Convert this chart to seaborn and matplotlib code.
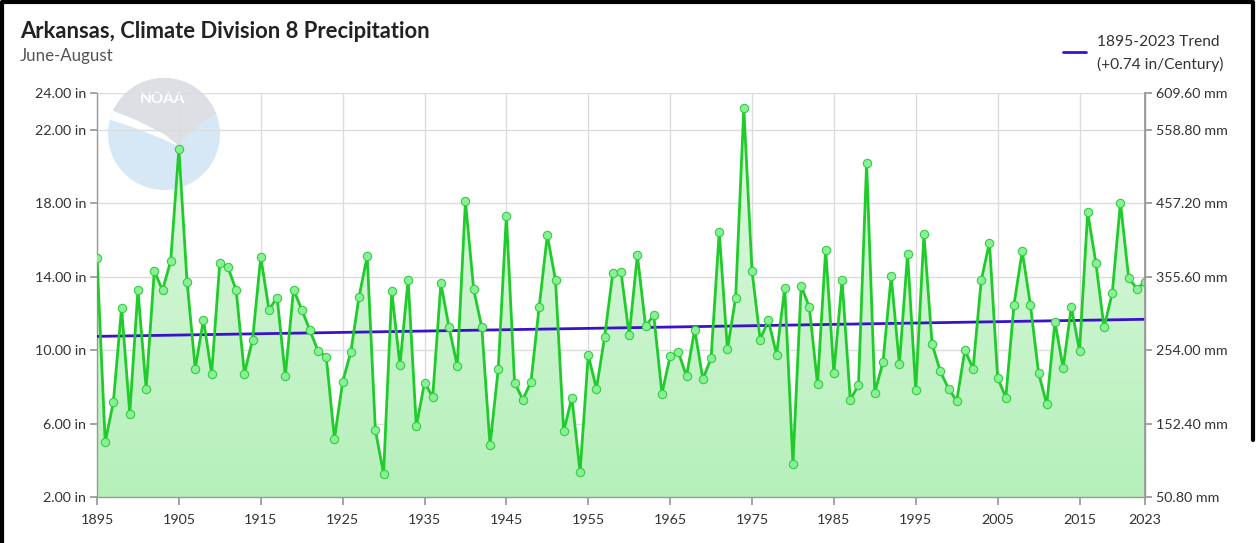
import numpy as np
import matplotlib
matplotlib.use("Agg")
import matplotlib.pyplot as plt
import seaborn as sns
from matplotlib.colors import LinearSegmentedColormap
from matplotlib.patches import Circle, Polygon
from matplotlib.lines import Line2D

# values (inches, June-August totals)
years = list(range(1895, 2024))
precip_in = [
    15.04, 5.00, 7.18, 12.31, 6.55, 13.27, 7.91, 14.33, 13.27, 14.87,   # 1895-1904
    20.96, 13.73, 9.00, 11.67, 8.73, 14.78, 14.51, 13.27, 8.73, 10.58,  # 1905-1914
    15.09, 12.22, 12.87, 8.60, 13.31, 12.22, 11.09, 9.96, 9.64, 5.18,   # 1915-1924
    8.27, 9.91, 12.91, 15.13, 5.64, 3.27, 13.22, 9.18, 13.85, 5.85,     # 1925-1934
    8.24, 7.45, 13.64, 11.24, 9.15, 18.13, 13.33, 11.24, 4.82, 8.95,    # 1935-1944
    17.33, 8.24, 7.31, 8.27, 12.35, 16.27, 13.82, 5.58, 7.42, 3.36,     # 1945-1954
    9.73, 7.91, 10.73, 14.22, 14.27, 10.82, 15.18, 11.31, 11.91, 7.64,  # 1955-1964
    9.67, 9.91, 8.58, 11.13, 8.42, 9.58, 16.45, 10.05, 12.87, 23.18,    # 1965-1974
    14.33, 10.58, 11.64, 9.76, 13.40, 3.78, 13.51, 12.36, 8.15, 15.49,  # 1975-1984
    8.76, 13.82, 7.31, 8.09, 20.22, 7.69, 9.36, 14.04, 9.24, 15.24,     # 1985-1994
    7.82, 16.33, 10.33, 8.85, 7.91, 7.24, 10.00, 9.00, 13.82, 15.87,    # 1995-2004
    8.51, 7.42, 12.49, 15.40, 12.49, 8.76, 7.05, 11.55, 9.04, 12.36,    # 2005-2014
    9.96, 17.51, 14.76, 11.24, 13.13, 18.05, 13.95, 13.36, 13.73,       # 2015-2023
]
y_ticks = [2, 6, 10, 14, 18, 22, 24]
x_ticks = [1895, 1905, 1915, 1925, 1935, 1945, 1955, 1965, 1975, 1985,
           1995, 2005, 2015, 2023]

sns.set_theme(style="whitegrid")
plt.rcParams['font.family'] = ['Lato', 'DejaVu Sans']

fig = plt.figure(figsize=(12.57, 5.43), dpi=100)
fig.patch.set_facecolor("white")

# faded NOAA logo behind the plot
logo = fig.add_axes([108 / 1257, (543 - 134 - 56) / 543, 112 / 1257, 112 / 543])
logo.set_xlim(-1, 1)
logo.set_ylim(-1, 1)
logo.set_aspect("equal")
logo.axis("off")
logo.set_zorder(0)
disc = Circle((0, 0), 1, facecolor="#d6e8f6", edgecolor="none")
logo.add_patch(disc)
t = np.linspace(-1, 1, 80)
upper = np.interp(t, [-1, -0.5, 0, 0.25, 0.6, 1], [0.45, 0.25, 0.0, -0.2, 0.15, 0.4])
top = Polygon(np.vstack([np.column_stack([t, upper]), [[1, 1], [-1, 1]]]),
              facecolor="#dddfe4", edgecolor="none")
top.set_clip_path(disc)
logo.add_patch(top)
tb = np.linspace(-1, 0.25, 40)
band_hi = np.interp(tb, [-1, -0.5, 0, 0.25], [0.45, 0.25, 0.0, -0.2])
band_lo = np.interp(tb, [-1, -0.5, 0, 0.25], [0.27, 0.1, -0.1, -0.22])
band = Polygon(np.vstack([np.column_stack([tb, band_hi]),
                          np.column_stack([tb, band_lo])[::-1]]),
               facecolor="white", edgecolor="none")
band.set_clip_path(disc)
logo.add_patch(band)
logo.text(-0.02, 0.62, "NOAA", color="white", fontsize=11, fontweight="bold",
          ha="center", va="center")

ax = fig.add_axes([97 / 1257, 46 / 543, 1048 / 1257, 403.6 / 543])
ax.set_zorder(1)
ax.patch.set_alpha(0)

# gradient area under the series
fill = ax.fill_between(years, precip_in, 2, facecolor="none", edgecolor="none")
cmap = LinearSegmentedColormap.from_list("g", ["#b5f0ba", "#e2f9e4"])
grad = ax.imshow(np.linspace(0, 1, 256).reshape(-1, 1), cmap=cmap, origin="lower",
                 extent=[1895, 2023, 2, 24], aspect="auto", zorder=1)
grad.set_clip_path(fill.get_paths()[0], transform=ax.transData)

# linear trend
coef = np.polyfit(years, precip_in, 1)
trend = np.polyval(coef, years)
ax.plot(years, trend, color="#3a12cc", linewidth=2, zorder=3)

sns.lineplot(x=years, y=precip_in, ax=ax, color="#1fcc2a", linewidth=2, marker="o",
             markersize=6, markerfacecolor="#8af096", markeredgecolor="#34cc44",
             markeredgewidth=0.8, zorder=4)

ax.set_xlim(1895, 2023)
ax.set_ylim(2, 24)
ax.set_xticks(x_ticks)
ax.set_xticklabels([str(x) for x in x_ticks])
ax.set_yticks(y_ticks)
ax.set_yticklabels([f"{v:.2f} in" for v in y_ticks])
ax.grid(True, color="#dcdcdc", linewidth=1)
ax.set_xlabel("")
ax.set_ylabel("")
ax.tick_params(axis="both", labelsize=10.3, labelcolor="#333333", color="#999999")
ax.tick_params(axis="x", bottom=True, length=6, pad=6)
ax.tick_params(axis="y", left=True, length=5, pad=3)
for side in ["left", "bottom", "right"]:
    ax.spines[side].set_color("#999999")
    ax.spines[side].set_linewidth(1)
ax.spines["top"].set_visible(False)

ax2 = ax.twinx()
ax2.set_zorder(2)
ax2.patch.set_alpha(0)
ax2.set_ylim(2, 24)
ax2.set_yticks(y_ticks)
ax2.set_yticklabels([f"{v * 25.4:.2f} mm" for v in y_ticks])
ax2.grid(False)
ax2.tick_params(axis="y", right=True, length=5, pad=3, labelsize=10.3,
                labelcolor="#333333", color="#999999")
for side in ["left", "bottom", "top"]:
    ax2.spines[side].set_visible(False)
ax2.spines["right"].set_color("#999999")

# titles
fig.text(20 / 1257, 1 - 32 / 543, "Arkansas, Climate Division 8 Precipitation",
         fontsize=15.8, fontweight="bold", color="#222222", va="center")
fig.text(20 / 1257, 1 - 56 / 543, "June-August", fontsize=12.2, color="#555555", va="center")

# legend
fig.add_artist(Line2D([1063 / 1257, 1086 / 1257], [1 - 52 / 543, 1 - 52 / 543],
                      color="#3a12cc", linewidth=2, transform=fig.transFigure))
fig.text(1097 / 1257, 1 - 42 / 543, "1895-2023 Trend", fontsize=11.2, color="#333333", va="center")
fig.text(1097 / 1257, 1 - 64 / 543, "(+0.74 in/Century)", fontsize=11.2, color="#333333", va="center")

# screenshot frame: left, top and upper right edges
frame_x = [0.0015, 0.0015, 0.9965, 0.9965]
frame_y = [0.0, 0.997, 0.997, 1 - 440 / 543]
fig.add_artist(Line2D(frame_x, frame_y, color="black", linewidth=3,
                      transform=fig.transFigure))

fig.savefig("out.png", dpi=100)
